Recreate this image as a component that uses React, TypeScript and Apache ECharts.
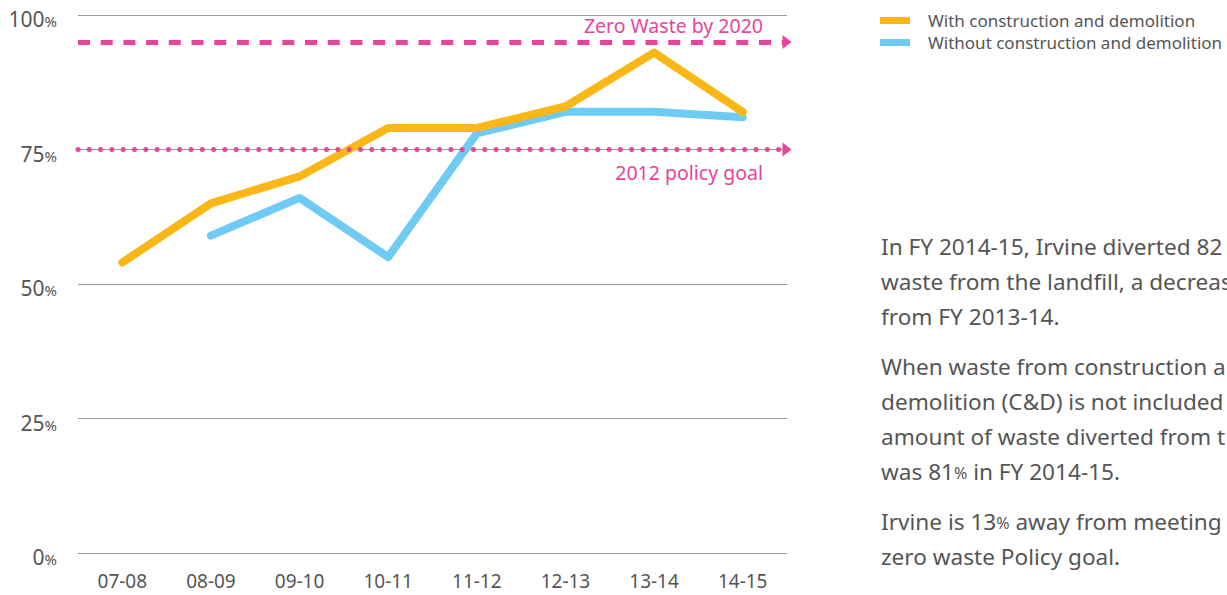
import React, { useEffect, useRef } from "react";
import * as echarts from "echarts";

const categories = ["07-08", "08-09", "09-10", "10-11", "11-12", "12-13", "13-14", "14-15"];
const withCD = [54, 65, 70, 79, 79, 83, 93, 82];
const withoutCD = [null, 59, 66, 55, 78, 82, 82, 81];
const seriesNames = ["With construction and demolition", "Without construction and demolition"];
const yTicks = [0, 25, 50, 75, 100];
const zeroWasteGoal = 95;
const policyGoal = 75;
const zeroWasteLabel = "Zero Waste by 2020";
const policyLabel = "2012 policy goal";
const paragraphs = [
  ["In FY 2014-15, Irvine diverted 82", "waste from the landfill, a decreas", "from FY 2013-14."],
  ["When waste from construction a", "demolition (C&D) is not included", "amount of waste diverted from t", "was 81% in FY 2014-15."],
  ["Irvine is 13% away from meeting", "zero waste Policy goal."],
];

const FONT = "'Noto Sans', sans-serif";
const PINK = "#e8449a";
const TEXT = "#555";

export default function App() {
  const ref = useRef<HTMLDivElement>(null);
  useEffect(() => {
    if (!ref.current) return;
    const chart = echarts.init(ref.current, undefined, { renderer: "svg" });
    const paraTops = [229, 349, 504];
    chart.setOption({
      animation: false,
      textStyle: { fontFamily: FONT },
      grid: { left: 78, right: 440, top: 15, bottom: 42, containLabel: false },
      legend: {
        orient: "vertical",
        left: 880,
        top: 12,
        padding: 0,
        itemWidth: 30,
        itemHeight: 7,
        itemGap: 5,
        icon: "rect",
        textStyle: { color: TEXT, fontSize: 17, fontFamily: FONT, padding: [0, 0, 0, 13] },
        data: seriesNames,
      },
      xAxis: {
        type: "category",
        data: categories,
        boundaryGap: true,
        axisLine: { show: false },
        axisTick: { show: false },
        axisLabel: { color: TEXT, fontSize: 19, margin: 18, fontFamily: FONT },
      },
      yAxis: {
        type: "value",
        min: 0,
        max: 100,
        interval: 25,
        axisLine: { show: false },
        axisTick: { show: false },
        splitLine: {
          lineStyle: { color: "#9a9a9a", width: 1 },
        },
        axisLabel: {
          margin: 21,
          color: TEXT,
          fontSize: 21,
          fontFamily: FONT,
          padding: [8, 0, 0, 0],
          formatter: (v: number) => (yTicks.includes(v) ? `{n|${v}}{p|%}` : ""),
          rich: {
            n: { color: TEXT, fontSize: 21, fontFamily: FONT, verticalAlign: "bottom" },
            p: { color: TEXT, fontSize: 15, fontFamily: FONT, verticalAlign: "bottom", padding: [0, 0, 1, 0] },
          },
        },
      },
      series: [
        {
          name: seriesNames[0],
          type: "line",
          data: withCD,
          symbol: "none",
          z: 3,
          itemStyle: { color: "#fbb716" },
          lineStyle: { color: "#fbb716", width: 8, cap: "round", join: "round" },
          markLine: {
            silent: true,
            symbol: ["none", "triangle"],
            symbolSize: [14, 9],
            data: [
              {
                yAxis: zeroWasteGoal,
                lineStyle: { color: PINK, width: 5, type: [12, 10.7], cap: "butt" },
                label: {
                  show: true,
                  position: "insideEndTop",
                  formatter: zeroWasteLabel,
                  color: PINK,
                  fontSize: 19.5,
                  fontFamily: FONT,
                  distance: [24, 6],
                },
              },
              {
                yAxis: policyGoal,
                lineStyle: { color: PINK, width: 5, type: [0, 11.3], cap: "round" },
                label: {
                  show: true,
                  position: "insideEndBottom",
                  formatter: policyLabel,
                  color: PINK,
                  fontSize: 19.5,
                  fontFamily: FONT,
                  distance: [24, 13],
                },
              },
            ],
          },
        },
        {
          name: seriesNames[1],
          type: "line",
          data: withoutCD,
          symbol: "none",
          z: 2,
          itemStyle: { color: "#6fcbf3" },
          lineStyle: { color: "#6fcbf3", width: 8, cap: "round", join: "round" },
        },
      ],
      graphic: paragraphs.map((lines, i) => ({
        type: "text",
        left: 881,
        top: paraTops[i],
        style: {
          text: lines.map((l) => l.split("%").join("{p|%}")).join("\n"),
          fill: TEXT,
          fontSize: 22.6,
          lineHeight: 35,
          fontFamily: FONT,
          rich: {
            p: { fill: TEXT, fontSize: 16, lineHeight: 35, fontFamily: FONT, verticalAlign: "bottom", padding: [0, 0, 8, 0] },
          },
        },
      })),
    });
    return () => chart.dispose();
  }, []);
  return <div ref={ref} style={{ width: 1227, height: 595, position: "absolute", left: 0, top: 0 }} />;
}
